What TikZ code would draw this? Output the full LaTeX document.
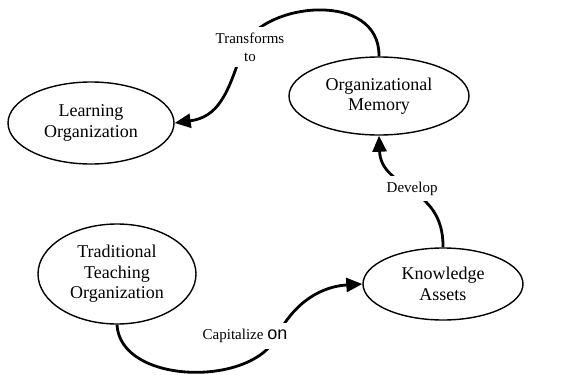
\documentclass[tikz,border=0pt]{standalone}
\usepackage{fontspec}
\setmainfont{Liberation Serif}
\newfontfamily\arialfont{Liberation Sans}
\usetikzlibrary{shapes.geometric,arrows.meta}
\begin{document}
\begin{tikzpicture}[x=1pt,y=-1pt,
  concept/.style={ellipse,draw,line width=1.4pt,inner sep=0pt,align=center,font=\fontsize{18}{20.5}\selectfont},
  link/.style={line width=2.8pt,-{Triangle[length=16pt,width=14pt]}},
  linklabel/.style={fill=white,align=center,font=\fontsize{15}{18}\selectfont,inner xsep=4pt,inner ysep=6pt}]
\useasboundingbox (0,0) rectangle (566,375);
\node[concept,minimum width=166pt,minimum height=82pt] (LO) at (91,123) {Learning\\Organization};
\node[concept,minimum width=180pt,minimum height=78pt] (OM) at (379,96) {Organizational\\Memory};
\node[concept,minimum width=158pt,minimum height=100pt] (TTO) at (117,274) {Traditional\\Teaching\\Organization};
\node[concept,minimum width=160pt,minimum height=72pt] (KA) at (443,284) {Knowledge\\Assets};
\draw[link] (OM.north) .. controls (380,-10) and (263,2) .. (243,47)
  node[linklabel,xshift=7pt] {Transforms\\to}
  .. controls (228,95) and (218,117) .. (LO.east);
\draw[link] (KA.north) .. controls (444,185) and (381,190) .. node[linklabel,pos=0.5] {Develop} (OM.south);
\draw[link] (TTO.south) .. controls (120,385) and (255,388) .. (278,334)
  node[linklabel,xshift=-33pt,yshift=-2pt] {Capitalize {\arialfont\fontsize{18}{18}\selectfont on}}
  .. controls (300,294) and (330,286) .. (KA.west);
\end{tikzpicture}
\end{document}
